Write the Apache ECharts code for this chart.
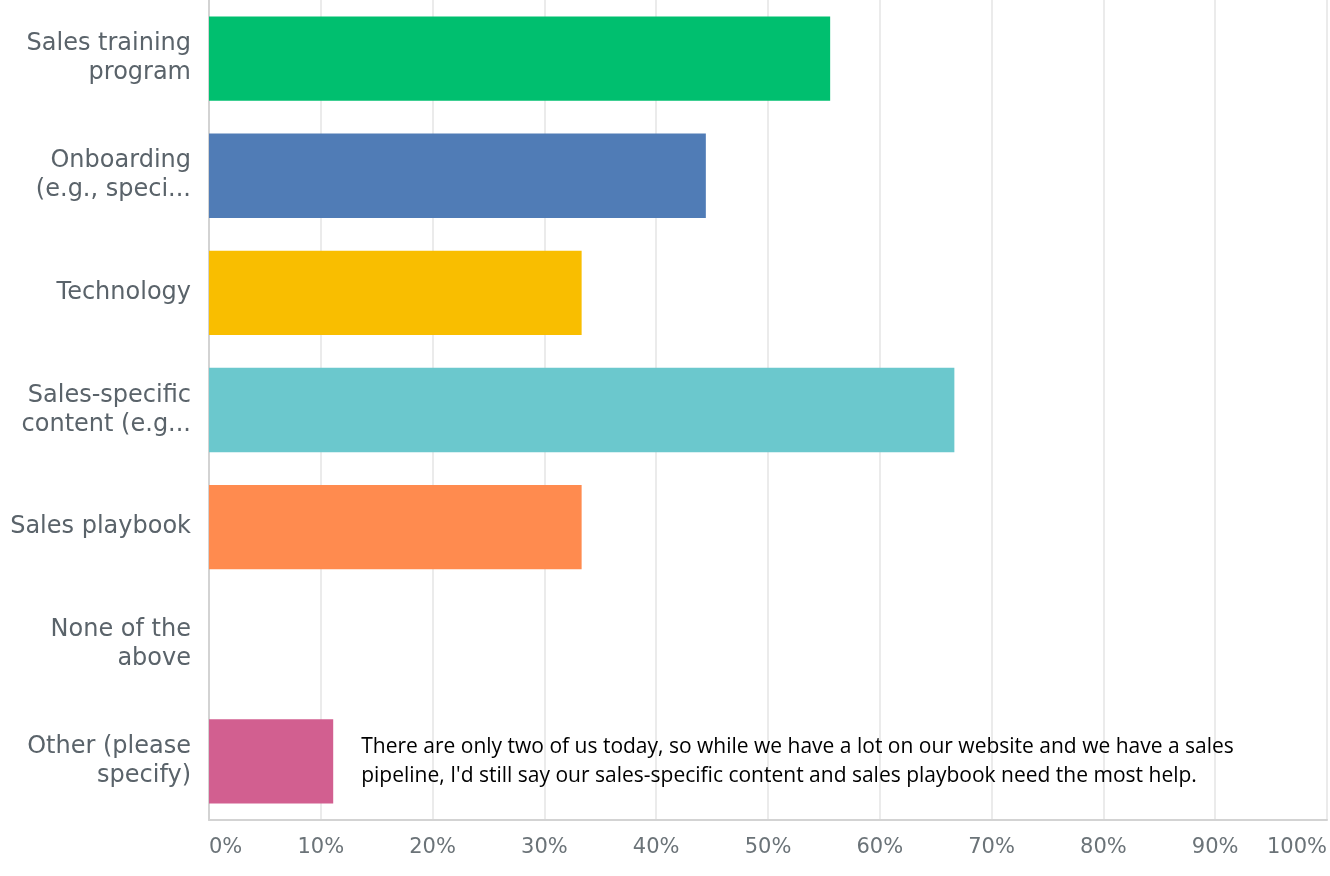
<!DOCTYPE html>
<html>
<head>
<meta charset="utf-8">
<script src="https://cdn.jsdelivr.net/npm/echarts@6/dist/echarts.min.js"></script>
<style>
html,body{margin:0;padding:0;background:#fff;}
#chart{width:1330px;height:876px;}
</style>
</head>
<body>
<div id="chart"></div>
<script>
const categories = [
  "Sales training\nprogram",
  "Onboarding\n(e.g., speci...",
  "Technology",
  "Sales-specific\ncontent (e.g...",
  "Sales playbook",
  "None of the\nabove",
  "Other (please\nspecify)"
];
const values = [55.56, 44.44, 33.33, 66.67, 33.33, 0, 11.11];
const barColors = ["#00BF6F", "#507CB6", "#F9BE00", "#6BC8CD", "#FF8B4F", "#7D5E90", "#D25F90"];
const otherComment = "There are only two of us today, so while we have a lot on our website and we have a sales\npipeline, I'd still say our sales-specific content and sales playbook need the most help.";
const commentIndex = 6;

const chart = echarts.init(document.getElementById('chart'), null, {renderer: 'canvas'});
const FONT = "'DejaVu Sans', sans-serif";
chart.setOption({
  animation: false,
  backgroundColor: '#ffffff',
  grid: {left: 209, right: 3, top: 0, bottom: 56, containLabel: false},
  xAxis: {
    type: 'value', min: 0, max: 100, interval: 10,
    axisLine: {show: true, lineStyle: {color: '#d3d3d3', width: 2}},
    axisTick: {show: false},
    splitLine: {show: true, lineStyle: {color: '#ebebeb', width: 2}},
    axisLabel: {
      formatter: '{value}%', color: '#6b7378', fontSize: 21, fontFamily: FONT,
      margin: 17, alignMinLabel: 'left', alignMaxLabel: 'right'
    }
  },
  yAxis: {
    type: 'category', data: categories, inverse: true,
    axisLine: {show: true, lineStyle: {color: '#d3d3d3', width: 2}},
    axisTick: {show: false},
    splitLine: {show: false},
    axisLabel: {color: '#5a636a', fontSize: 24, fontFamily: FONT, margin: 18, lineHeight: 29, align: 'right'}
  },
  series: [{
    type: 'bar',
    data: values.map((v, i) => ({
      value: v,
      itemStyle: {color: barColors[i]},
      label: i === commentIndex ? {
        show: true, position: 'right', distance: 28,
        formatter: otherComment, color: '#000', fontSize: 21,
        fontFamily: "'Open Sans', sans-serif",
        lineHeight: 29, align: 'left'
      } : {show: false}
    })),
    barCategoryGap: '28%'
  }]
});
</script>
</body>
</html>
